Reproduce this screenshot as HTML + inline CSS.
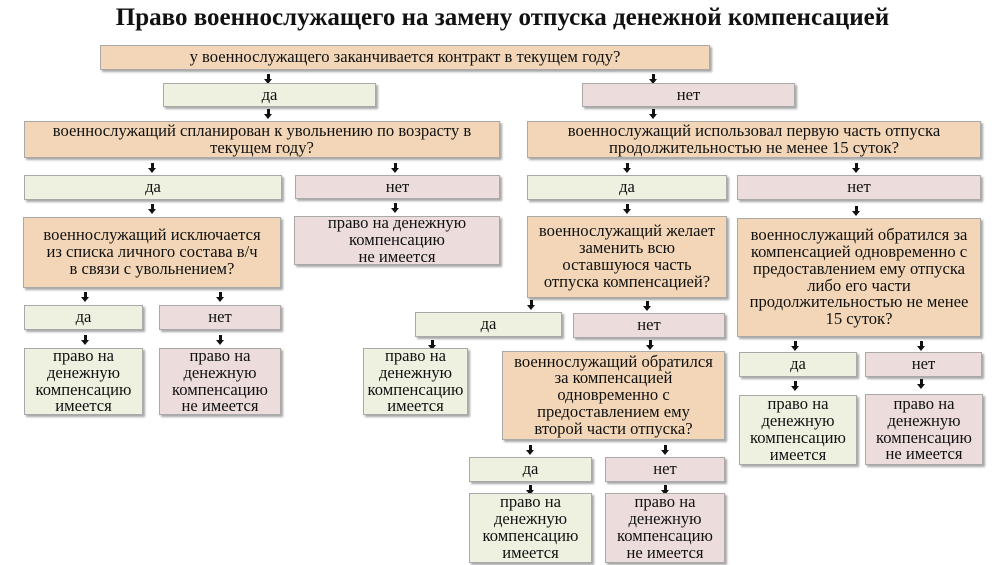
<!DOCTYPE html>
<html><head><meta charset="utf-8"><style>
body{margin:0;width:1005px;height:565px;background:#fff;position:relative;overflow:hidden;font-family:"Liberation Serif","DejaVu Serif",serif;}
.t{position:absolute;left:0;width:1005px;top:4px;text-align:center;font-family:"Liberation Serif","DejaVu Serif",serif;font-weight:bold;font-size:25px;color:#111;white-space:nowrap}
.b{position:absolute;box-sizing:border-box;border:1px solid #a9a9a9;box-shadow:2px 2px 2px rgba(0,0,0,.35);display:flex;align-items:center;justify-content:center;text-align:center;font-size:16.6px;line-height:16.8px;color:#111;white-space:nowrap}
.o{background:#f2d6b7}.g{background:#eef0e0}.p{background:#ecdcdc}
.a{position:absolute;width:3px;height:6px;background:#111;margin-left:-1.5px}
.a:after{content:"";position:absolute;left:-3px;top:5px;border-left:4.5px solid transparent;border-right:4.5px solid transparent;border-top:5px solid #111}
</style></head><body>
<div class="t">Право военнослужащего на замену отпуска денежной компенсацией</div>
<div class="b o" style="left:100px;top:45px;width:610px;height:25px">у военнослужащего заканчивается контракт в текущем году?</div>
<div class="a" style="left:268px;top:74px"></div><div class="a" style="left:653px;top:74px"></div>
<div class="b g" style="left:163px;top:83px;width:213px;height:24px">да</div>
<div class="b p" style="left:582px;top:83px;width:213px;height:24px">нет</div>
<div class="a" style="left:268px;top:109px"></div><div class="a" style="left:653px;top:109px"></div>
<div class="b o" style="left:24px;top:121px;width:476px;height:37px">военнослужащий спланирован к увольнению по возрасту в<br>текущем году?</div>
<div class="b o" style="left:527px;top:121px;width:454px;height:37px">военнослужащий использовал первую часть отпуска<br>продолжительностью не менее 15 суток?</div>
<div class="a" style="left:152px;top:163px"></div><div class="a" style="left:395px;top:163px"></div>
<div class="a" style="left:627px;top:163px"></div><div class="a" style="left:856px;top:163px"></div>
<div class="b g" style="left:24px;top:175px;width:258px;height:25px">да</div>
<div class="b p" style="left:295px;top:175px;width:205px;height:24px">нет</div>
<div class="b g" style="left:527px;top:175px;width:200px;height:25px">да</div>
<div class="b p" style="left:737px;top:175px;width:244px;height:25px">нет</div>
<div class="a" style="left:152px;top:204px"></div><div class="a" style="left:395px;top:203px"></div>
<div class="a" style="left:627px;top:204px"></div><div class="a" style="left:856px;top:206px"></div>
<div class="b o" style="left:23px;top:217px;width:258px;height:71px">военнослужащий исключается<br>из списка личного состава в/ч<br>в связи с увольнением?</div>
<div class="b p" style="left:294px;top:216px;width:206px;height:49px">право на денежную<br>компенсацию<br>не имеется</div>
<div class="b o" style="left:527px;top:216px;width:200px;height:82px">военнослужащий желает<br>заменить всю<br>оставшуюся часть<br>отпуска компенсацией?</div>
<div class="b o" style="left:737px;top:218px;width:244px;height:119px">военнослужащий обратился за<br>компенсацией одновременно с<br>предоставлением ему отпуска<br>либо его части<br>продолжительностью не менее<br>15 суток?</div>
<div class="a" style="left:85px;top:292px"></div><div class="a" style="left:220px;top:292px"></div>
<div class="b g" style="left:24px;top:305px;width:119px;height:25px">да</div>
<div class="b p" style="left:159px;top:305px;width:122px;height:25px">нет</div>
<div class="a" style="left:85px;top:335px"></div><div class="a" style="left:220px;top:335px"></div>
<div class="b g" style="left:24px;top:348px;width:119px;height:67px">право на<br>денежную<br>компенсацию<br>имеется</div>
<div class="b p" style="left:159px;top:348px;width:122px;height:67px">право на<br>денежную<br>компенсацию<br>не имеется</div>
<div class="a" style="left:531px;top:300px"></div><div class="a" style="left:647px;top:301px"></div>
<div class="b g" style="left:415px;top:312px;width:147px;height:25px">да</div>
<div class="b p" style="left:573px;top:313px;width:152px;height:25px">нет</div>
<div class="a" style="left:432px;top:340px"></div><div class="a" style="left:650px;top:340px"></div>
<div class="b g" style="left:363px;top:348px;width:105px;height:67px">право на<br>денежную<br>компенсацию<br>имеется</div>
<div class="b o" style="left:502px;top:351px;width:223px;height:89px">военнослужащий обратился<br>за компенсацией<br>одновременно с<br>предоставлением ему<br>второй части отпуска?</div>
<div class="a" style="left:530px;top:445px"></div><div class="a" style="left:665px;top:445px"></div>
<div class="b g" style="left:469px;top:457px;width:123px;height:25px">да</div>
<div class="b p" style="left:605px;top:457px;width:120px;height:25px">нет</div>
<div class="a" style="left:530px;top:485px"></div><div class="a" style="left:665px;top:485px"></div>
<div class="b g" style="left:469px;top:493px;width:123px;height:70px">право на<br>денежную<br>компенсацию<br>имеется</div>
<div class="b p" style="left:605px;top:493px;width:120px;height:70px">право на<br>денежную<br>компенсацию<br>не имеется</div>
<div class="a" style="left:795px;top:341px"></div><div class="a" style="left:921px;top:341px"></div>
<div class="b g" style="left:739px;top:352px;width:118px;height:25px">да</div>
<div class="b p" style="left:865px;top:352px;width:117px;height:25px">нет</div>
<div class="a" style="left:795px;top:381px"></div><div class="a" style="left:921px;top:379px"></div>
<div class="b g" style="left:739px;top:395px;width:118px;height:70px">право на<br>денежную<br>компенсацию<br>имеется</div>
<div class="b p" style="left:865px;top:394px;width:118px;height:71px">право на<br>денежную<br>компенсацию<br>не имеется</div>
</body></html>
